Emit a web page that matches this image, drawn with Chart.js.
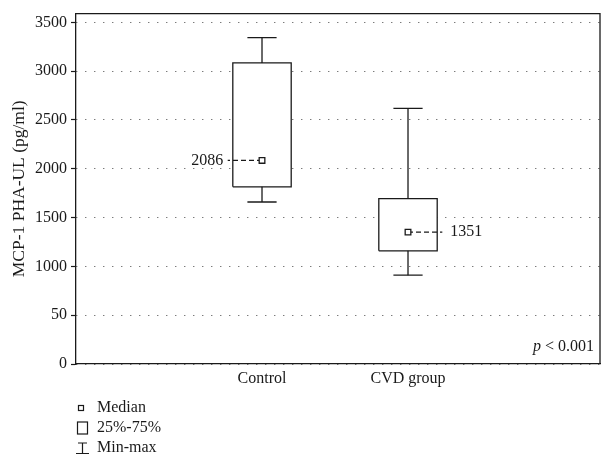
<!DOCTYPE html>
<html>
<head>
<meta charset="utf-8">
<script src="https://cdn.jsdelivr.net/npm/chart.js@4"></script>
<style>
  html, body { margin: 0; padding: 0; background: #fff; }
  #wrap { width: 611px; height: 464px; }
</style>
</head>
<body>
<div id="wrap"><canvas id="box-chart" width="611" height="464"></canvas></div>
<script>
// data
const groups = ['Control', 'CVD group'];
const mins = [1660, 910];
const q1s = [1815, 1160];
const medians = [2086, 1351];
const q3s = [3085, 1694];
const maxs = [3343, 2620];
const medianSide = ['left', 'right'];

const yTicks = [0, 500, 1000, 1500, 2000, 2500, 3000, 3500];
const yTickLabels = ['0', '50', '1000', '1500', '2000', '2500', '3000', '3500'];
const legendItems = ['Median', '25%-75%', 'Min-max'];

const FONT = '"Liberation Serif", "DejaVu Serif", serif';
const INK = '#1a1a1a';
const boxHalf = 0.2;  // in x units
const capHalf = 0.1;

Chart.defaults.font.family = FONT;
Chart.defaults.font.size = 16;
Chart.defaults.color = INK;

// build datasets from the arrays
let datasets = [];
groups.forEach(function(g, i) {
  let x = i + 1;
  let line = { borderColor: INK, borderWidth: 1.3, pointRadius: 0, tension: 0, fill: false };
  datasets.push(Object.assign({}, line, {
    data: [{x: x - boxHalf, y: q1s[i]}, {x: x + boxHalf, y: q1s[i]}, {x: x + boxHalf, y: q3s[i]},
           {x: x - boxHalf, y: q3s[i]}, {x: x - boxHalf, y: q1s[i]}],
    backgroundColor: '#fff', fill: 'shape', order: 5
  }));
  datasets.push(Object.assign({}, line, { data: [{x: x, y: q3s[i]}, {x: x, y: maxs[i]}] }));
  datasets.push(Object.assign({}, line, { data: [{x: x - capHalf, y: maxs[i]}, {x: x + capHalf, y: maxs[i]}] }));
  datasets.push(Object.assign({}, line, { data: [{x: x, y: q1s[i]}, {x: x, y: mins[i]}] }));
  datasets.push(Object.assign({}, line, { data: [{x: x - capHalf, y: mins[i]}, {x: x + capHalf, y: mins[i]}] }));
  // dashed leader from median to its label
  let dir = medianSide[i] === 'left' ? -1 : 1;
  datasets.push(Object.assign({}, line, {
    data: [{x: x, y: medians[i]}, {x: x + dir * 0.235, y: medians[i]}],
    borderDash: [5, 3], borderWidth: 1.2, order: 2
  }));
  datasets.push({
    data: [{x: x, y: medians[i]}], showLine: false, pointStyle: 'rect', pointRadius: 4,
    pointBackgroundColor: '#fff', pointBorderColor: INK, pointBorderWidth: 1.3, order: 0
  });
});

const extras = {
  id: 'extras',
  afterDraw(chart) {
    const ctx = chart.ctx, a = chart.chartArea;
    const xs = chart.scales.x, ys = chart.scales.y;
    ctx.save();
    // frame top + right
    ctx.strokeStyle = INK;
    ctx.lineWidth = 1.3;
    ctx.beginPath();
    ctx.moveTo(a.left, a.top); ctx.lineTo(a.right, a.top); ctx.lineTo(a.right, a.bottom);
    ctx.stroke();

    ctx.fillStyle = INK;
    ctx.font = '16px ' + FONT;
    ctx.textBaseline = 'middle';
    // median labels
    groups.forEach(function(g, i) {
      let left = medianSide[i] === 'left';
      let px = xs.getPixelForValue(i + 1 + (left ? -0.265 : 0.29));
      ctx.textAlign = left ? 'right' : 'left';
      ctx.fillText(String(medians[i]), px, ys.getPixelForValue(medians[i]));
    });

    // p value
    ctx.textAlign = 'left';
    ctx.textBaseline = 'alphabetic';
    let pText = ' < 0.001';
    ctx.font = '16px ' + FONT;
    let w2 = ctx.measureText(pText).width;
    ctx.font = 'italic 16px ' + FONT;
    let w1 = ctx.measureText('p').width;
    let sx = a.right - 6 - w1 - w2;
    ctx.fillText('p', sx, a.bottom - 13);
    ctx.font = '16px ' + FONT;
    ctx.fillText(pText, sx + w1, a.bottom - 13);

    // legend
    let ly = 408, step = 20;
    ctx.lineWidth = 1.2;
    ctx.strokeStyle = INK;
    ctx.strokeRect(78.5, ly - 2.5, 5, 5);
    ctx.strokeRect(77.5, ly + step - 6, 10, 12);
    let ty = ly + 2 * step;
    ctx.beginPath();
    ctx.moveTo(78, ty - 5); ctx.lineTo(87, ty - 5);
    ctx.moveTo(82.5, ty - 5); ctx.lineTo(82.5, ty + 5);
    ctx.moveTo(76, ty + 5.5); ctx.lineTo(89, ty + 5.5);
    ctx.stroke();
    ctx.textBaseline = 'middle';
    legendItems.forEach(function(t, i) {
      ctx.fillText(t, 97, ly + i * step);
    });
    ctx.restore();
  }
};

new Chart(document.getElementById('box-chart'), {
  type: 'line',
  data: { datasets: datasets },
  plugins: [extras],
  options: {
    responsive: false,
    animation: false,
    layout: { padding: { left: 0, right: 11, top: 11, bottom: 0 } },
    plugins: { legend: { display: false }, tooltip: { enabled: false } },
    scales: {
      x: {
        type: 'linear',
        min: -0.274,
        max: 3.315,
        afterBuildTicks: function(scale) {
          scale.ticks = groups.map(function(g, i) { return { value: i + 1 }; });
        },
        afterFit: function(scale) { scale.height = 100; },
        ticks: {
          autoSkip: false, maxRotation: 0, padding: 5, color: INK,
          callback: function(v) { return groups[v - 1]; }
        },
        grid: { display: false, drawTicks: false },
        border: { display: true, color: INK, width: 1.3 }
      },
      y: {
        min: 0,
        max: 3590,
        afterBuildTicks: function(scale) {
          scale.ticks = yTicks.map(function(v) { return { value: v }; });
        },
        afterFit: function(scale) { scale.width = 76; },
        ticks: {
          padding: 4, color: INK,
          callback: function(v) { return yTickLabels[yTicks.indexOf(v)]; }
        },
        grid: { color: '#444', lineWidth: 1, tickLength: 5, tickColor: INK, tickWidth: 1.2 },
        border: { display: true, color: INK, width: 1.3, dash: [1, 8] },
        title: { display: true, text: 'MCP-1 PHA-UL (pg/ml)', color: INK, font: { size: 17.5 }, padding: { top: 9, bottom: 0 } }
      }
    }
  }
});
</script>
</body>
</html>
